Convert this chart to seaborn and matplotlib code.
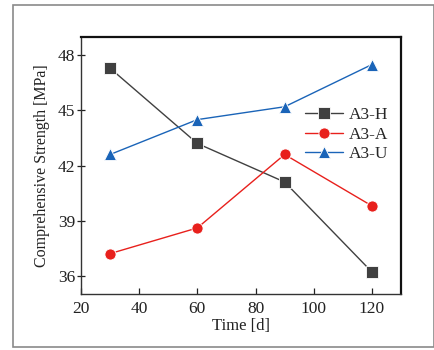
import matplotlib
matplotlib.use("Agg")
import matplotlib.pyplot as plt
import seaborn as sns
import pandas as pd
from matplotlib.patches import Rectangle

# Curing time (days) and compressive strength (MPa) for the three mixes
days = [30, 60, 90, 120]
series_names = ["A3-H", "A3-A", "A3-U"]
strength_h = [47.3, 43.2, 41.1, 36.2]
strength_a = [37.2, 38.6, 42.6, 39.8]
strength_u = [42.6, 44.5, 45.2, 47.5]
x_ticks = [20, 40, 60, 80, 100, 120]
y_ticks = [36, 39, 42, 45, 48]

colors = {"A3-H": "#404040", "A3-A": "#e8201c", "A3-U": "#1a64b8"}
markers = {"A3-H": "s", "A3-A": "o", "A3-U": "^"}

df = pd.DataFrame({
    "Time": days * 3,
    "Strength": strength_h + strength_a + strength_u,
    "Mix": [n for n in series_names for _ in days],
})

sns.set_theme(style="white")
plt.rcParams["font.family"] = ["Liberation Serif", "DejaVu Serif"]

fig = plt.figure(figsize=(4.35, 3.5), dpi=100)
fig.patch.set_facecolor("white")

ax = fig.add_axes([81 / 435, 1 - 294 / 350, 320 / 435, 257 / 350])
ax.set_facecolor("white")

# outer frame around the whole figure
frame = Rectangle((13 / 435, 1 - 347 / 350), 421 / 435, 342 / 350,
                  transform=fig.transFigure, fill=False,
                  edgecolor="#8a8a8a", linewidth=1.2, zorder=-1)
fig.add_artist(frame)

sns.lineplot(data=df, x="Time", y="Strength", hue="Mix", style="Mix",
             palette=colors, markers=markers, dashes=False,
             markersize=8, linewidth=1.0, markeredgewidth=0.6,
             ax=ax)

ax.set_xlim(20, 130)
ax.set_ylim(35, 49)
ax.set_xticks(x_ticks)
ax.set_yticks(y_ticks)
ax.tick_params(axis="x", bottom=True, direction="in", length=4, width=0.9,
               labelsize=12.5, pad=5, colors="#222222")
ax.tick_params(axis="y", left=True, direction="inout", length=6, width=0.9,
               labelsize=12.5, pad=1, colors="#222222")
ax.set_xlabel("Time [d]", fontsize=12, labelpad=1, color="#222222")
ax.set_ylabel("Comprehensive Strength [MPa]", fontsize=11.5, labelpad=6,
              color="#222222")

for side in ["left", "bottom"]:
    ax.spines[side].set_color("#333333")
    ax.spines[side].set_linewidth(1.0)
for side in ["top", "right"]:
    ax.spines[side].set_color("#111111")
    ax.spines[side].set_linewidth(1.6)

leg = ax.legend(title=None, frameon=False, fontsize=12.5,
                loc="center left", bbox_to_anchor=(0.70, 0.62),
                handlelength=2.2, handletextpad=0.3, labelspacing=0.2,
                borderaxespad=0, borderpad=0)

fig.savefig("out.png", dpi=100)
